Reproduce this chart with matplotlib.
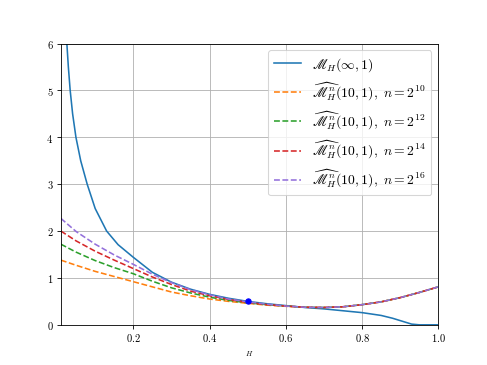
import matplotlib
matplotlib.use("Agg")
from matplotlib import pyplot as plt

plt.rcParams['font.family'] = 'serif'
plt.rcParams['font.serif'] = ['cmr10', 'DejaVu Serif']
plt.rcParams['mathtext.fontset'] = 'cm'
plt.rcParams['axes.formatter.use_mathtext'] = True

# limit curve
h_lim = [0.0257, 0.0296, 0.0344, 0.0408, 0.0495, 0.062, 0.079, 0.1, 0.13, 0.16,
         0.2, 0.25, 0.3, 0.35, 0.4, 0.45, 0.5, 0.55, 0.6, 0.65, 0.7, 0.75, 0.8,
         0.85, 0.88, 0.9, 0.92, 0.93, 0.95, 1.0]
m_lim = [6.0, 5.5, 5.0, 4.5, 4.0, 3.5, 3.0, 2.48, 2.0, 1.71,
         1.44, 1.12, 0.91, 0.76, 0.65, 0.566, 0.5, 0.45, 0.41, 0.37, 0.34, 0.3, 0.26,
         0.2, 0.14, 0.09, 0.04, 0.015, 0.0, 0.0]

# estimators
h_est = [0.01, 0.05, 0.1, 0.15, 0.2, 0.25, 0.3, 0.35, 0.4, 0.45, 0.5,
         0.55, 0.6, 0.65, 0.7, 0.75, 0.8, 0.85, 0.9, 0.95, 1.0]
m_10 = [1.38, 1.27, 1.14, 1.03, 0.92, 0.81, 0.70, 0.62, 0.55, 0.5, 0.46,
        0.42, 0.395, 0.375, 0.37, 0.385, 0.43, 0.49, 0.58, 0.69, 0.81]
m_12 = [1.72, 1.55, 1.37, 1.22, 1.09, 0.93, 0.79, 0.68, 0.59, 0.52, 0.47,
        0.43, 0.4, 0.375, 0.37, 0.385, 0.43, 0.49, 0.58, 0.69, 0.81]
m_14 = [2.0, 1.79, 1.57, 1.38, 1.2, 1.02, 0.86, 0.72, 0.62, 0.54, 0.48,
        0.43, 0.4, 0.375, 0.37, 0.385, 0.43, 0.49, 0.58, 0.69, 0.81]
m_16 = [2.27, 1.99, 1.72, 1.49, 1.29, 1.08, 0.9, 0.75, 0.64, 0.55, 0.49,
        0.44, 0.4, 0.375, 0.37, 0.385, 0.43, 0.49, 0.58, 0.69, 0.81]

point_h = [0.5]
point_m = [0.51]

fig, ax = plt.subplots(figsize=(6.4, 4.8), dpi=76.1)

ax.plot(h_lim, m_lim, color='tab:blue', label=r'$\mathscr{M}_H(\infty,1)$')
ax.plot(h_est, m_10, '--', color='tab:orange', label=r'$\widehat{\mathscr{M}^n_H}(10,1),\ n=2^{10}$')
ax.plot(h_est, m_12, '--', color='tab:green', label=r'$\widehat{\mathscr{M}^n_H}(10,1),\ n=2^{12}$')
ax.plot(h_est, m_14, '--', color='tab:red', label=r'$\widehat{\mathscr{M}^n_H}(10,1),\ n=2^{14}$')
ax.plot(h_est, m_16, '--', color='mediumpurple', label=r'$\widehat{\mathscr{M}^n_H}(10,1),\ n=2^{16}$')
ax.scatter(point_h, point_m, color='blue', s=25, zorder=5)

ax.set_xlim(0.01, 1.0)
ax.set_ylim(0, 6)
ax.set_xlabel(r'$H$', fontsize=7)
ax.grid(True)
ax.legend(loc='upper right', fontsize=13)

plt.savefig('out.png')
